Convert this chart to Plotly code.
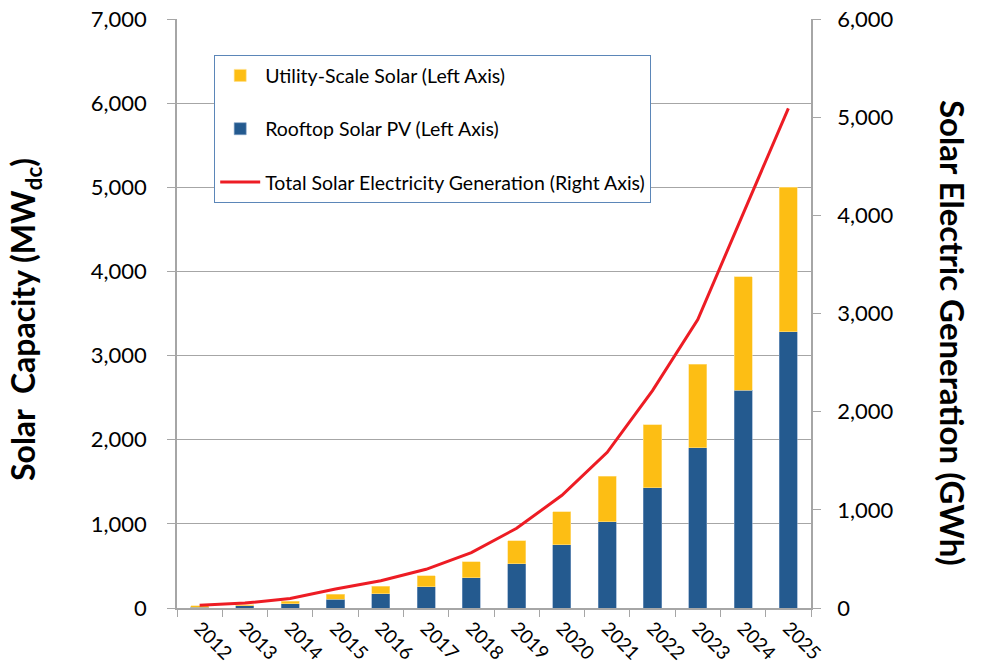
import plotly.graph_objects as go

years = ["2012", "2013", "2014", "2015", "2016", "2017", "2018",
         "2019", "2020", "2021", "2022", "2023", "2024", "2025"]
rooftop_mw = [10, 29, 52, 106, 171, 250, 360, 523, 749, 1026, 1431, 1906, 2590, 3285]
utility_mw = [14, 11, 31, 56, 90, 135, 187, 274, 392, 540, 745, 992, 1346, 1715]
generation_gwh = [27, 50, 97, 193, 278, 394, 565, 812, 1148, 1586, 2215, 2938, 4015, 5090]

left_ticks = list(range(0, 7001, 1000))
right_ticks = list(range(0, 6001, 1000))

BLUE = "#245A8F"
GOLD = "#FDBE14"
RED = "#ED1C24"
GRID = "#A6A6A6"
FONT = "Lato"

W, H = 983, 666
ML, MR, MT, MB = 177, 172, 19, 58

fig = go.Figure()
fig.add_trace(go.Bar(
    x=years, y=rooftop_mw, name="Rooftop Solar PV (Left Axis)",
    marker=dict(color=BLUE, line=dict(color="#7F9FC4", width=0.6)),
    width=0.4, legendrank=2, legendgroup="b", yaxis="y"))
fig.add_trace(go.Bar(
    x=years, y=utility_mw, name="Utility-Scale Solar (Left Axis)",
    marker=dict(color=GOLD, line=dict(color="#FFE08A", width=0.6)),
    width=0.4, legendrank=1, legendgroup="a", yaxis="y"))
fig.add_trace(go.Scatter(
    x=years, y=generation_gwh, name="Total Solar Electricity Generation (Right Axis)",
    mode="lines", line=dict(color=RED, width=3), legendrank=3, legendgroup="c",
    yaxis="y2"))

pw = W - ML - MR
ph = H - MT - MB

def px2paper(px, py):
    return (px - ML) / pw, (H - MB - py) / ph

lx, ly = px2paper(25, 320)
rx, ry = px2paper(953, 333)
gx, gy = px2paper(214, 55)

fig.update_layout(
    width=W, height=H,
    barmode="stack",
    paper_bgcolor="white", plot_bgcolor="white",
    margin=dict(l=ML, r=MR, t=MT, b=MB, autoexpand=False),
    font=dict(family=FONT, color="#000000"),
    xaxis=dict(
        type="category", tickangle=45, tickfont=dict(size=19, family=FONT),
        showline=True, linecolor=GRID, linewidth=1.5, automargin=False,
        ticks="outside", ticklen=7, tickcolor=GRID, tickson="boundaries",
        showgrid=False, range=[-0.5, 13.5]),
    yaxis=dict(
        range=[0, 7000], tickvals=left_ticks, tickformat=",d",
        tickfont=dict(size=22, family=FONT), automargin=False,
        showline=True, linecolor=GRID, linewidth=1.5,
        ticks="outside", ticklen=8, tickcolor=GRID, ticklabelstandoff=16,
        showgrid=True, gridcolor=GRID, gridwidth=1, zeroline=False),
    yaxis2=dict(
        range=[0, 6000], tickvals=right_ticks, tickformat=",d",
        tickfont=dict(size=22, family=FONT), automargin=False,
        overlaying="y", side="right", anchor="x",
        showline=True, linecolor=GRID, linewidth=1.5,
        ticks="outside", ticklen=8, tickcolor=GRID, ticklabelstandoff=12,
        showgrid=False, zeroline=False),
    legend=dict(
        x=gx, y=gy, xanchor="left", yanchor="top",
        bgcolor="white", bordercolor="#5B86B8", borderwidth=1.2,
        font=dict(size=19.5, family=FONT),
        tracegroupgap=25, itemwidth=40,
        traceorder="grouped"),
    annotations=[
        dict(text="<b>Solar  Capacity (MW<sub>dc</sub>)</b>", textangle=-90,
             x=lx, y=ly, xref="paper", yref="paper", showarrow=False,
             xanchor="center", yanchor="middle",
             font=dict(size=32, family=FONT)),
        dict(text="<b>Solar Electric Generation (GWh)</b>", textangle=90,
             x=rx, y=ry, xref="paper", yref="paper", showarrow=False,
             xanchor="center", yanchor="middle",
             font=dict(size=33, family=FONT)),
    ],
)

fig.write_html("out.html", config={"displayModeBar": False},
               post_script="document.body.style.margin='0px';document.body.style.overflow='hidden';")
